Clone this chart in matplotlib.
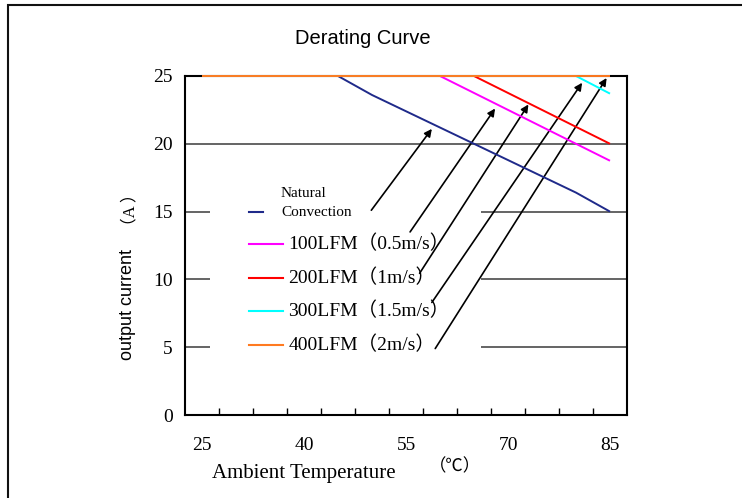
import matplotlib
matplotlib.use("Agg")
import matplotlib.pyplot as plt
from matplotlib.patches import Rectangle
from matplotlib.ticker import FixedLocator

# Derating data: ambient temperature (degC) vs. maximum output current (A)
temp_natural = [25, 45, 50, 65, 80, 85]
curr_natural = [25, 25, 23.6, 20, 16.4, 15]

temp_100lfm = [25, 60, 85]
curr_100lfm = [25, 25, 18.75]

temp_200lfm = [25, 65, 85]
curr_200lfm = [25, 25, 20]

temp_300lfm = [25, 80, 85]
curr_300lfm = [25, 25, 23.7]

temp_400lfm = [25, 85]
curr_400lfm = [25, 25]

x_tick_values = [25, 40, 55, 70, 85]
y_tick_values = [0, 5, 10, 15, 20, 25]

series_labels = ["Natural\nConvection", "100LFM（0.5m/s）", "200LFM（1m/s）",
                 "300LFM（1.5m/s）", "400LFM（2m/s）"]
series_colors = ["#1f2a8a", "#ff00ff", "#ff0000", "#00ffff", "#ff7a20"]

# Callout arrows: (tail temp, tail current) -> (head temp, head current)
arrow_tails = [(49.9, 15.1), (55.6, 13.5), (57.0, 10.45), (58.8, 8.3), (59.3, 4.9)]
arrow_heads = [(58.8, 21.1), (68.1, 22.6), (73.0, 22.9), (80.9, 24.5), (84.5, 24.85)]

W, H = 742, 498
fig = plt.figure(figsize=(W / 100, H / 100), dpi=100)
fig.patch.set_facecolor("white")

# outer frame (open on the right and bottom edges)
fig.add_artist(Rectangle((8 / W, -0.05), 1.2, 1 - 5 / H + 0.05,
                         transform=fig.transFigure, fill=False,
                         edgecolor="#111111", linewidth=1.5))

ax = fig.add_axes([185 / W, 83 / H, 442 / W, 339 / H])
ax.set_xlim(22.5, 87.5)
ax.set_ylim(0, 25)

serif = ["Liberation Serif", "Noto Sans CJK SC", "DejaVu Sans"]
sans = ["Liberation Sans", "DejaVu Sans"]

# horizontal grid lines
for yv in y_tick_values[1:-1]:
    ax.axhline(yv, color="#4a4a4a", linewidth=1.2, zorder=1)

# curves (drawn above the frame so the 25 A plateau stays visible)
series = [(temp_natural, curr_natural), (temp_100lfm, curr_100lfm),
          (temp_200lfm, curr_200lfm), (temp_300lfm, curr_300lfm),
          (temp_400lfm, curr_400lfm)]
for (tx, cy), col, lab in zip(series, series_colors, series_labels):
    ax.plot(tx, cy, color=col, linewidth=1.4, zorder=7, label=lab,
            solid_capstyle="butt", clip_on=False)

# legend panel drawn in data coordinates
ax.add_patch(Rectangle((26.2, 4.05), 39.8, 13.6, facecolor="white",
                       edgecolor="none", zorder=2))
legend_y = [14.97, 12.61, 10.1, 7.67, 5.16]
for i, (col, lab, ly) in enumerate(zip(series_colors, series_labels, legend_y)):
    if i == 0:
        ax.plot([31.9, 34.0], [ly, ly], color=col, linewidth=1.5, zorder=3)
        ax.text(36.6, 16.3, "Natural", fontsize=11, family=serif,
                va="center", ha="left", zorder=3)
        ax.text(36.6, 14.97, "Convection", fontsize=11, family=serif,
                va="center", ha="left", zorder=3)
    else:
        ax.plot([31.9, 36.9], [ly, ly], color=col, linewidth=1.5, zorder=3)
        ax.text(37.7, ly, lab, fontsize=14, family=serif,
                va="center", ha="left", zorder=3)

# callout arrows
for (tx, ty), (hx, hy) in zip(arrow_tails, arrow_heads):
    ax.annotate("", xy=(hx, hy), xytext=(tx, ty),
                arrowprops=dict(arrowstyle="-|>", color="black", lw=1.2,
                                mutation_scale=11, shrinkA=0, shrinkB=0),
                zorder=5)

# axes frame
for sp in ax.spines.values():
    sp.set_color("black")
    sp.set_linewidth(1.5)
    sp.set_zorder(6)

ax.set_xticks(x_tick_values)
ax.set_xticklabels([str(v) for v in x_tick_values], family=serif, fontsize=14)
ax.xaxis.set_minor_locator(FixedLocator([27.5 + 5 * k for k in range(12)]))
ax.tick_params(axis="x", which="major", length=0, pad=16)
ax.tick_params(axis="x", which="minor", direction="in", length=5,
               width=1.0, color="black")
ax.set_yticks(y_tick_values)
ax.set_yticklabels([str(v) for v in y_tick_values], family=serif, fontsize=14)
ax.tick_params(axis="y", which="both", length=0, pad=9)

# titles and axis captions
fig.text(363 / W, 1 - 38 / H, "Derating Curve", family=sans, fontsize=14.5,
         ha="center", va="center")
fig.text(128 / W, 1 - 305 / H, "output current", family=sans, fontsize=13,
         rotation=90, ha="center", va="center")
fig.text(130 / W, 1 - 210 / H, "（A ）", family=serif, fontsize=12,
         rotation=90, ha="center", va="center")
fig.text(304 / W, 1 - 473 / H, "Ambient Temperature", family=serif,
         fontsize=15, ha="center", va="center")
fig.text(455 / W, 1 - 467 / H, "（℃）", family=serif, fontsize=12.5,
         ha="center", va="center")

fig.savefig("out.png", dpi=100, facecolor="white")
